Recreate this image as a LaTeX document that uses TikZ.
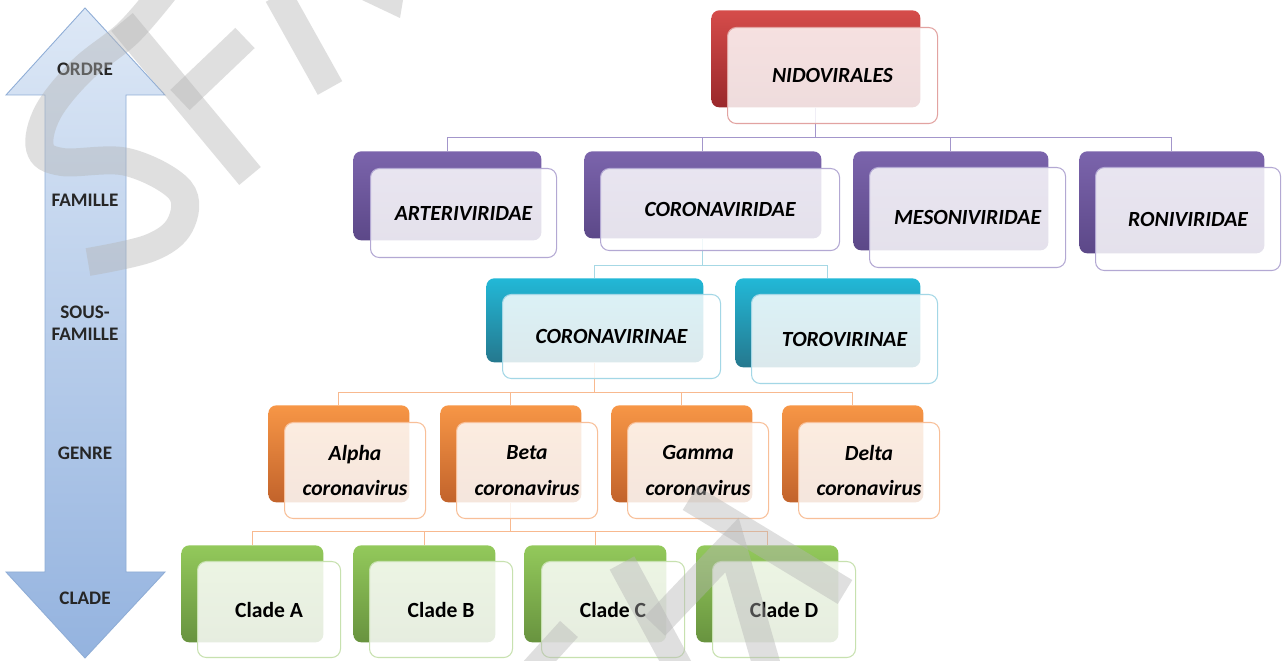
\documentclass[tikz,border=0pt]{standalone}
\usepackage{fontspec}
\setmainfont{Carlito}
\usetikzlibrary{calc}
% box colours: top and bottom of the solid back card, frame of the light front card
\definecolor{redT}{HTML}{D54C4A}\definecolor{redB}{HTML}{9A282B}\definecolor{redL}{HTML}{E2A3A1}
\definecolor{purT}{HTML}{7B64AC}\definecolor{purB}{HTML}{5C4888}\definecolor{purL}{HTML}{B3A8D3}
\definecolor{teaT}{HTML}{22B8D7}\definecolor{teaB}{HTML}{25788E}\definecolor{teaL}{HTML}{A3D7E6}
\definecolor{oraT}{HTML}{F79646}\definecolor{oraB}{HTML}{C2632B}\definecolor{oraL}{HTML}{F8BF98}
\definecolor{greT}{HTML}{93C95B}\definecolor{greB}{HTML}{68933F}\definecolor{greL}{HTML}{C7E1AF}
\definecolor{arrT}{HTML}{DDE8F6}\definecolor{arrB}{HTML}{94B3DF}\definecolor{arrL}{HTML}{8FADD6}
\definecolor{conP}{HTML}{A396CB}\definecolor{conT}{HTML}{A6D8E5}\definecolor{conO}{HTML}{F8B98F}
\definecolor{wmgrey}{HTML}{B4B4B4}
\begin{document}
\begin{tikzpicture}[x=0.02cm,y=-0.02cm,
  bsize/.style 2 args={minimum width=#1*0.02cm, minimum height=#2*0.02cm},
  backbox/.style={rectangle, rounded corners=4.5pt, anchor=north west, inner sep=0pt,
    top color=#1T, bottom color=#1B, draw=none},
  frontbox/.style={rectangle, rounded corners=5pt, anchor=north west, inner sep=0pt,
    fill=white, fill opacity=0.84, text opacity=1, draw=#1L, line width=0.6pt,
    font=\fontsize{12.3}{20}\selectfont\bfseries\itshape, align=center},
  cladebox/.style={frontbox=#1, font=\fontsize{12.3}{20}\selectfont\bfseries},
  conn/.style={draw=#1, line width=0.7pt},
  rank/.style={font=\fontsize{10.9}{12.4}\selectfont\bfseries, align=center, text=black!85},
  wm/.style={draw=wmgrey, draw opacity=0.42, line width=28*0.02cm},
]
\useasboundingbox[fill=white] (0,0) rectangle (1285,661);

% ---- rank arrow ----
\draw[top color=arrT, bottom color=arrB, draw=arrL, line width=0.5pt]
  (85,8) -- (165,95) -- (126,95) -- (126,572) -- (165,572) -- (85,658)
  -- (6,572) -- (45,572) -- (45,95) -- (6,95) -- cycle;
\node[rank] (ordre) at (85,69) {ORDRE};
\node[rank] (famille) at (85,200) {FAMILLE};
\node[rank] (sousfam) at (85,323) {SOUS-\\FAMILLE};
\node[rank] (genre) at (85,453) {GENRE};
\node[rank] (clade) at (85,598) {CLADE};

% ---- back cards ----
\node[backbox=red, bsize={209}{97}] (nido) at (711,10) {};
\node[backbox=pur, bsize={188}{89}] (arteri) at (353,151) {};
\node[backbox=pur, bsize={237}{87}] (corvdae) at (584,151) {};
\node[backbox=pur, bsize={195}{99}] (meso) at (853,151) {};
\node[backbox=pur, bsize={185}{102}] (roni) at (1079,151) {};
\node[backbox=tea, bsize={217}{84}] (corvinae) at (486,278) {};
\node[backbox=tea, bsize={185}{89}] (toro) at (735,278) {};
\node[backbox=ora, bsize={141}{97}] (alpha) at (268,405) {};
\node[backbox=ora, bsize={141}{97}] (beta) at (440,405) {};
\node[backbox=ora, bsize={141}{97}] (gamma) at (611,405) {};
\node[backbox=ora, bsize={141}{97}] (delta) at (782,405) {};
\node[backbox=gre, bsize={142}{97}] (cladeA) at (181,545) {};
\node[backbox=gre, bsize={142}{97}] (cladeB) at (353,545) {};
\node[backbox=gre, bsize={142}{97}] (cladeC) at (524,545) {};
\node[backbox=gre, bsize={142}{97}] (cladeD) at (696,545) {};

% ---- connectors ----
\foreach \c in {arteri,corvdae,meso,roni}
  \draw[conn=conP] (nido.south) -- ++(0,30) -| (\c.north);
\foreach \c in {corvinae,toro}
  \draw[conn=conT] (corvdae.south) -- ++(0,27) -| (\c.north);
\foreach \c in {alpha,beta,gamma,delta}
  \draw[conn=conO] (corvinae.south) -- ++(0,30) -| (\c.north);
\foreach \c in {cladeA,cladeB,cladeC,cladeD}
  \draw[conn=conO] (beta.south) -- ++(0,29) -| (\c.north);

% ---- front cards with the names ----
\node[frontbox=red, bsize={210}{96}] (nidoF) at (727,27) {NIDOVIRALES};
\node[frontbox=pur, bsize={186}{89}] (arteriF) at (370,168) {ARTERIVIRIDAE};
\node[frontbox=pur, bsize={239}{82}] (corvdaeF) at (600,168) {CORONAVIRIDAE};
\node[frontbox=pur, bsize={196}{100}] (mesoF) at (869,167) {MESONIVIRIDAE};
\node[frontbox=pur, bsize={185}{103}] (roniF) at (1095,167) {RONIVIRIDAE};
\node[frontbox=tea, bsize={218}{84}] (corvinaeF) at (502,294) {CORONAVIRINAE};
\node[frontbox=tea, bsize={186}{89}] (toroF) at (751,294) {TOROVIRINAE};
\node[frontbox=ora, bsize={141}{96}] (alphaF) at (284,422) {Alpha\\coronavirus};
\node[frontbox=ora, bsize={141}{96}] (betaF) at (456,422) {Beta\\coronavirus};
\node[frontbox=ora, bsize={141}{96}] (gammaF) at (627,422) {Gamma\\coronavirus};
\node[frontbox=ora, bsize={141}{96}] (deltaF) at (798,422) {Delta\\coronavirus};
\node[cladebox=gre, bsize={143}{96}] (cladeAF) at (197,561) {Clade A};
\node[cladebox=gre, bsize={143}{96}] (cladeBF) at (369,561) {Clade B};
\node[cladebox=gre, bsize={143}{96}] (cladeCF) at (541,561) {Clade C};
\node[cladebox=gre, bsize={143}{96}] (cladeDF) at (712,561) {Clade D};

% ---- grey watermark strokes ----
\draw[wm] plot[smooth, tension=0.6] coordinates {(165,-10) (128,33) (82,70) (48,112) (40,148) (62,162) (127,162) (180,190) (180,225) (150,248) (88,262)};
\draw[wm] (122,22) -- (250,176);
\draw[wm] (180,100) -- (245,38);
\draw[wm] (278,-5) -- (330,88);
\fill[wmgrey, fill opacity=0.42] (362,0) -- (403,0) -- (400,18) -- cycle;
\draw[wm, line width=24*0.02cm] (530,672) -- (569,629);
\draw[wm] (622,563) -- (680,670);
\draw[wm, line join=miter] (655,626) -- (732,545) -- (768,670);
\draw[wm] (690,498) -- (845,592);
\end{tikzpicture}
\end{document}
